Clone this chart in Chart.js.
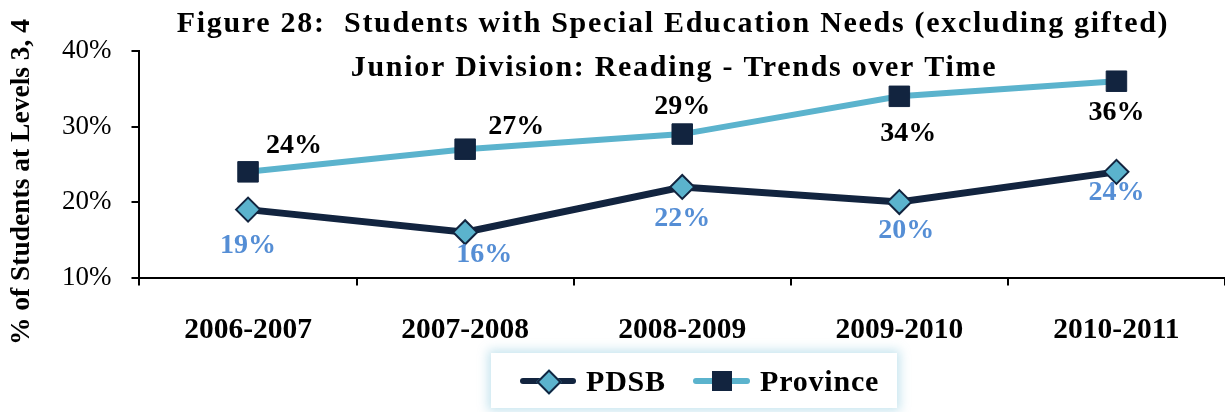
<!DOCTYPE html>
<html>
<head>
<meta charset="utf-8">
<script src="https://cdn.jsdelivr.net/npm/chart.js@4/dist/chart.umd.min.js"></script>
<style>
  html, body { margin: 0; padding: 0; background: #fff; }
  #wrap { position: relative; width: 1225px; height: 412px; overflow: hidden; }
  #legend {
    position: absolute; left: 491px; top: 353px; width: 406px; height: 55px;
    background: #fff; box-shadow: 0 0 10px 3px rgba(91, 179, 205, 0.35);
    font-family: "Liberation Serif", serif; font-weight: bold; font-size: 30px;
    letter-spacing: 0.8px; color: #000;
  }
  .ln { position: absolute; top: 25px; height: 6px; border-radius: 3px; }
  .mk { position: absolute; }
  .txt { position: absolute; top: 0; line-height: 55px; }
</style>
</head>
<body>
<div id="wrap">
  <canvas id="chart" width="1225" height="412"></canvas>
  <div id="legend">
    <div class="ln" style="left:29px;width:56px;background:#12243F;"></div>
    <div class="mk" style="left:49px;top:20px;width:14px;height:14px;background:#5BB3CD;border:2px solid #12243F;transform:rotate(45deg);"></div>
    <span class="txt" style="left:95px;">PDSB</span>
    <div class="ln" style="left:202px;width:57px;background:#5BB3CD;"></div>
    <div class="mk" style="left:221px;top:18px;width:20px;height:20px;background:#12243F;"></div>
    <span class="txt" style="left:269px;">Province</span>
  </div>
</div>
<script>
const years = ['2006-2007', '2007-2008', '2008-2009', '2009-2010', '2010-2011'];
const pdsb = [19, 16, 22, 20, 24];
const province = [24, 27, 29, 34, 36];
const titleLines = [
  'Figure 28:  Students with Special Education Needs (excluding gifted)',
  'Junior Division: Reading - Trends over Time'
];
const yTitle = '% of Students at Levels 3, 4';

const serif = '"Liberation Serif", "Times New Roman", serif';

// value labels next to each point, nudged per point so they clear the lines
const pointLabels = {
  id: 'pointLabels',
  afterDatasetsDraw(chart) {
    const ctx = chart.ctx;
    ctx.save();
    ctx.font = 'bold 28px ' + serif;
    ctx.textAlign = 'center';
    ctx.textBaseline = 'middle';
    chart.data.datasets.forEach((ds, i) => {
      const meta = chart.getDatasetMeta(i);
      ctx.fillStyle = ds.labelColor;
      meta.data.forEach((pt, j) => {
        const off = ds.labelOffsets[j];
        ctx.fillText(ds.data[j] + '%', pt.x + off[0], pt.y + off[1]);
      });
    });
    ctx.restore();
  }
};

// two-line title over the top of the plot, plus the rotated y axis title
const overlayText = {
  id: 'overlayText',
  afterDraw(chart) {
    const ctx = chart.ctx;
    ctx.save();
    ctx.fillStyle = '#000';
    ctx.textAlign = 'center';
    ctx.textBaseline = 'alphabetic';
    ctx.font = 'bold 30px ' + serif;
    ctx.letterSpacing = '1.7px';
    ctx.fillText(titleLines[0], 673, 32);
    ctx.fillText(titleLines[1], 674, 76);
    ctx.letterSpacing = '0px';
    ctx.font = 'bold 27.5px ' + serif;
    ctx.textBaseline = 'middle';
    ctx.translate(22, 182);
    ctx.rotate(-Math.PI / 2);
    ctx.fillText(yTitle, 0, 0);
    ctx.restore();
  }
};

const whiteBg = {
  id: 'whiteBg',
  beforeDraw(chart) {
    const ctx = chart.ctx;
    ctx.save();
    ctx.fillStyle = '#fff';
    ctx.fillRect(0, 0, chart.width, chart.height);
    ctx.restore();
  }
};

new Chart(document.getElementById('chart').getContext('2d'), {
  type: 'line',
  data: {
    labels: years,
    datasets: [
      {
        label: 'PDSB',
        data: pdsb,
        borderColor: '#12243F',
        borderWidth: 7,
        pointStyle: 'rectRot',
        pointRadius: 12,
        pointBackgroundColor: '#5BB3CD',
        pointBorderColor: '#12243F',
        pointBorderWidth: 2,
        labelColor: '#558ED5',
        labelOffsets: [[0, 36], [19, 22], [0, 32], [7, 29], [0, 21]]
      },
      {
        label: 'Province',
        data: province,
        borderColor: '#5BB3CD',
        borderWidth: 6,
        pointStyle: 'rect',
        pointRadius: 14.5,
        pointBackgroundColor: '#12243F',
        pointBorderColor: '#12243F',
        pointBorderWidth: 1,
        labelColor: '#000',
        labelOffsets: [[46, -26], [51, -22], [0, -27], [9, 37], [0, 32]]
      }
    ]
  },
  options: {
    responsive: false,
    animation: false,
    layout: { autoPadding: false, padding: { top: 51, left: 42, right: 0, bottom: 37 } },
    plugins: {
      legend: { display: false },
      title: { display: false },
      tooltip: { enabled: false }
    },
    elements: { line: { tension: 0 } },
    scales: {
      x: {
        offset: true,
        grid: { offset: true, drawOnChartArea: false, color: '#000', lineWidth: 2, tickLength: 8 },
        border: { color: '#000', width: 2 },
        ticks: { color: '#000', padding: 27, font: { family: serif, size: 29.5, weight: 'bold' }, maxRotation: 0 }
      },
      y: {
        min: 10,
        max: 40,
        grid: { drawOnChartArea: false, color: '#000', lineWidth: 2, tickLength: 8 },
        border: { color: '#000', width: 2 },
        ticks: {
          stepSize: 10,
          color: '#000',
          padding: 20,
          font: { family: serif, size: 27 },
          callback: v => v + '%'
        }
      }
    }
  },
  plugins: [whiteBg, pointLabels, overlayText]
});
</script>
</body>
</html>
